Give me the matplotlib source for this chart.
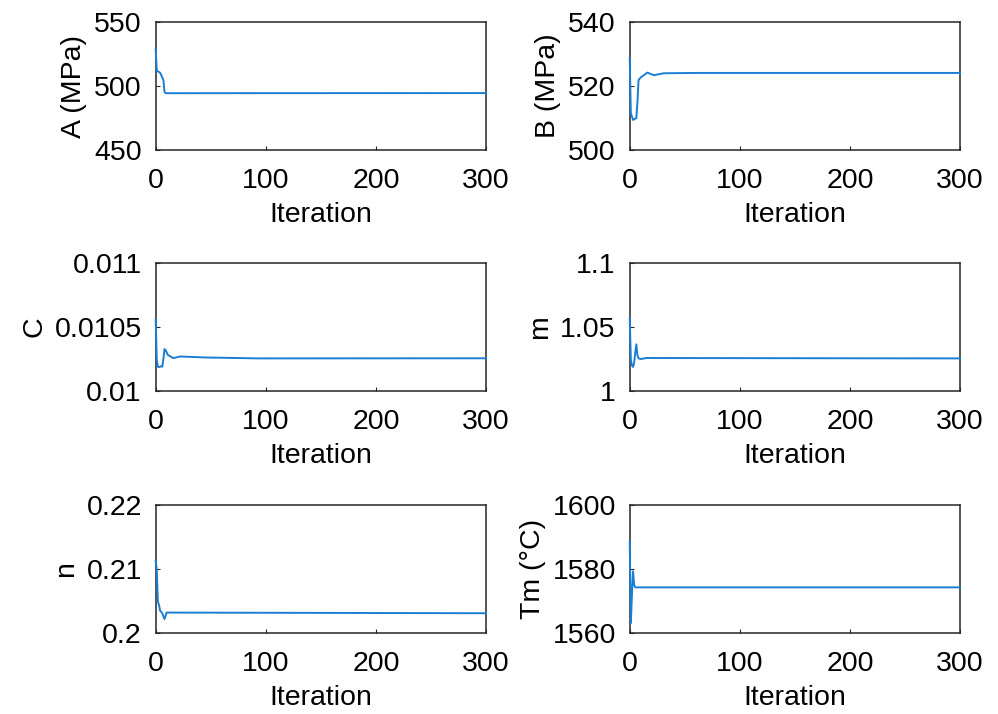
import matplotlib
matplotlib.use("Agg")
import matplotlib.pyplot as plt

# Parameter histories (iteration, value)
iter_A = [0, 1, 2, 4, 5, 7, 8, 9, 300]
val_A = [528.7, 512.5, 511.5, 510.4, 508.6, 504.7, 495.5, 494.4, 494.5]

iter_B = [0, 1, 3, 6, 7, 8, 10, 16, 22, 31, 60, 300]
val_B = [528.7, 511.5, 509.4, 510.0, 515.0, 521.9, 522.7, 524.2, 523.4, 524.0, 524.1, 524.1]

iter_C = [0, 1, 2, 3, 5, 6, 7, 8, 9, 11, 16, 22, 46, 94, 300]
val_C = [0.010565, 0.010244, 0.01019, 0.010187, 0.010193, 0.01019, 0.01025, 0.010328,
         0.01032, 0.010283, 0.010257, 0.01027, 0.010262, 0.010255, 0.010256]

iter_m = [0, 1, 2, 3, 4, 5, 6, 7, 8, 10, 15, 300]
val_m = [1.0569, 1.0246, 1.020, 1.0188, 1.022, 1.030, 1.0365, 1.028, 1.0255, 1.025, 1.0258, 1.0255]

iter_n = [0, 1, 2, 3, 4, 6, 7, 8, 10, 300]
val_n = [0.2113, 0.2099, 0.2049, 0.2044, 0.2035, 0.2031, 0.2026, 0.2022, 0.2032, 0.2031]

iter_Tm = [0, 1, 2, 3, 4, 5, 300]
val_Tm = [1588.6, 1563.1, 1572.0, 1579.3, 1575.1, 1574.3, 1574.3]

labels = ["A (MPa)", "B (MPa)", "C", "m", "n", "Tm (°C)"]
ylims = [(450, 550), (500, 540), (0.01, 0.011), (1.0, 1.1), (0.2, 0.22), (1560, 1600)]
yticks = [[450, 500, 550], [500, 520, 540], [0.01, 0.0105, 0.011],
          [1, 1.05, 1.1], [0.2, 0.21, 0.22], [1560, 1580, 1600]]
ytick_labels = [["450", "500", "550"], ["500", "520", "540"], ["0.01", "0.0105", "0.011"],
                ["1", "1.05", "1.1"], ["0.2", "0.21", "0.22"], ["1560", "1580", "1600"]]
series = [(iter_A, val_A), (iter_B, val_B), (iter_C, val_C),
          (iter_m, val_m), (iter_n, val_n), (iter_Tm, val_Tm)]

plt.rcParams["font.family"] = ["Liberation Sans", "DejaVu Sans"]
axis_col = "#262626"
line_col = "#1a7fd4"
fs = 20.5

fig = plt.figure(figsize=(9.98, 7.14), dpi=100)
lefts = [0.156, 0.631]
bottoms = [0.790, 0.4524, 0.1134]
w, h = 0.331, 0.179

for i, (xs, ys) in enumerate(series):
    row, col = divmod(i, 2)
    ax = fig.add_axes([lefts[col], bottoms[row], w, h])
    # draw over the spines so the first point on x=0 stays visible
    ax.plot(xs, ys, color=line_col, lw=1.4, zorder=3, clip_on=False)
    ax.set_xlim(0, 300)
    ax.set_ylim(*ylims[i])
    ax.set_xticks([0, 100, 200, 300])
    ax.set_yticks(yticks[i])
    ax.set_yticklabels(ytick_labels[i])
    ax.set_xlabel("Iteration", fontsize=fs, color="black", labelpad=6)
    ax.set_ylabel(labels[i], fontsize=fs, color="black", labelpad=5)
    ax.tick_params(direction="in", length=3, width=0.8, labelsize=fs,
                   colors=axis_col, labelcolor="black")
    ax.tick_params(axis="x", pad=13)
    ax.tick_params(axis="y", pad=10)
    for sp in ax.spines.values():
        sp.set_color(axis_col)
        sp.set_linewidth(1.1)

fig.savefig("out.png", dpi=100)
